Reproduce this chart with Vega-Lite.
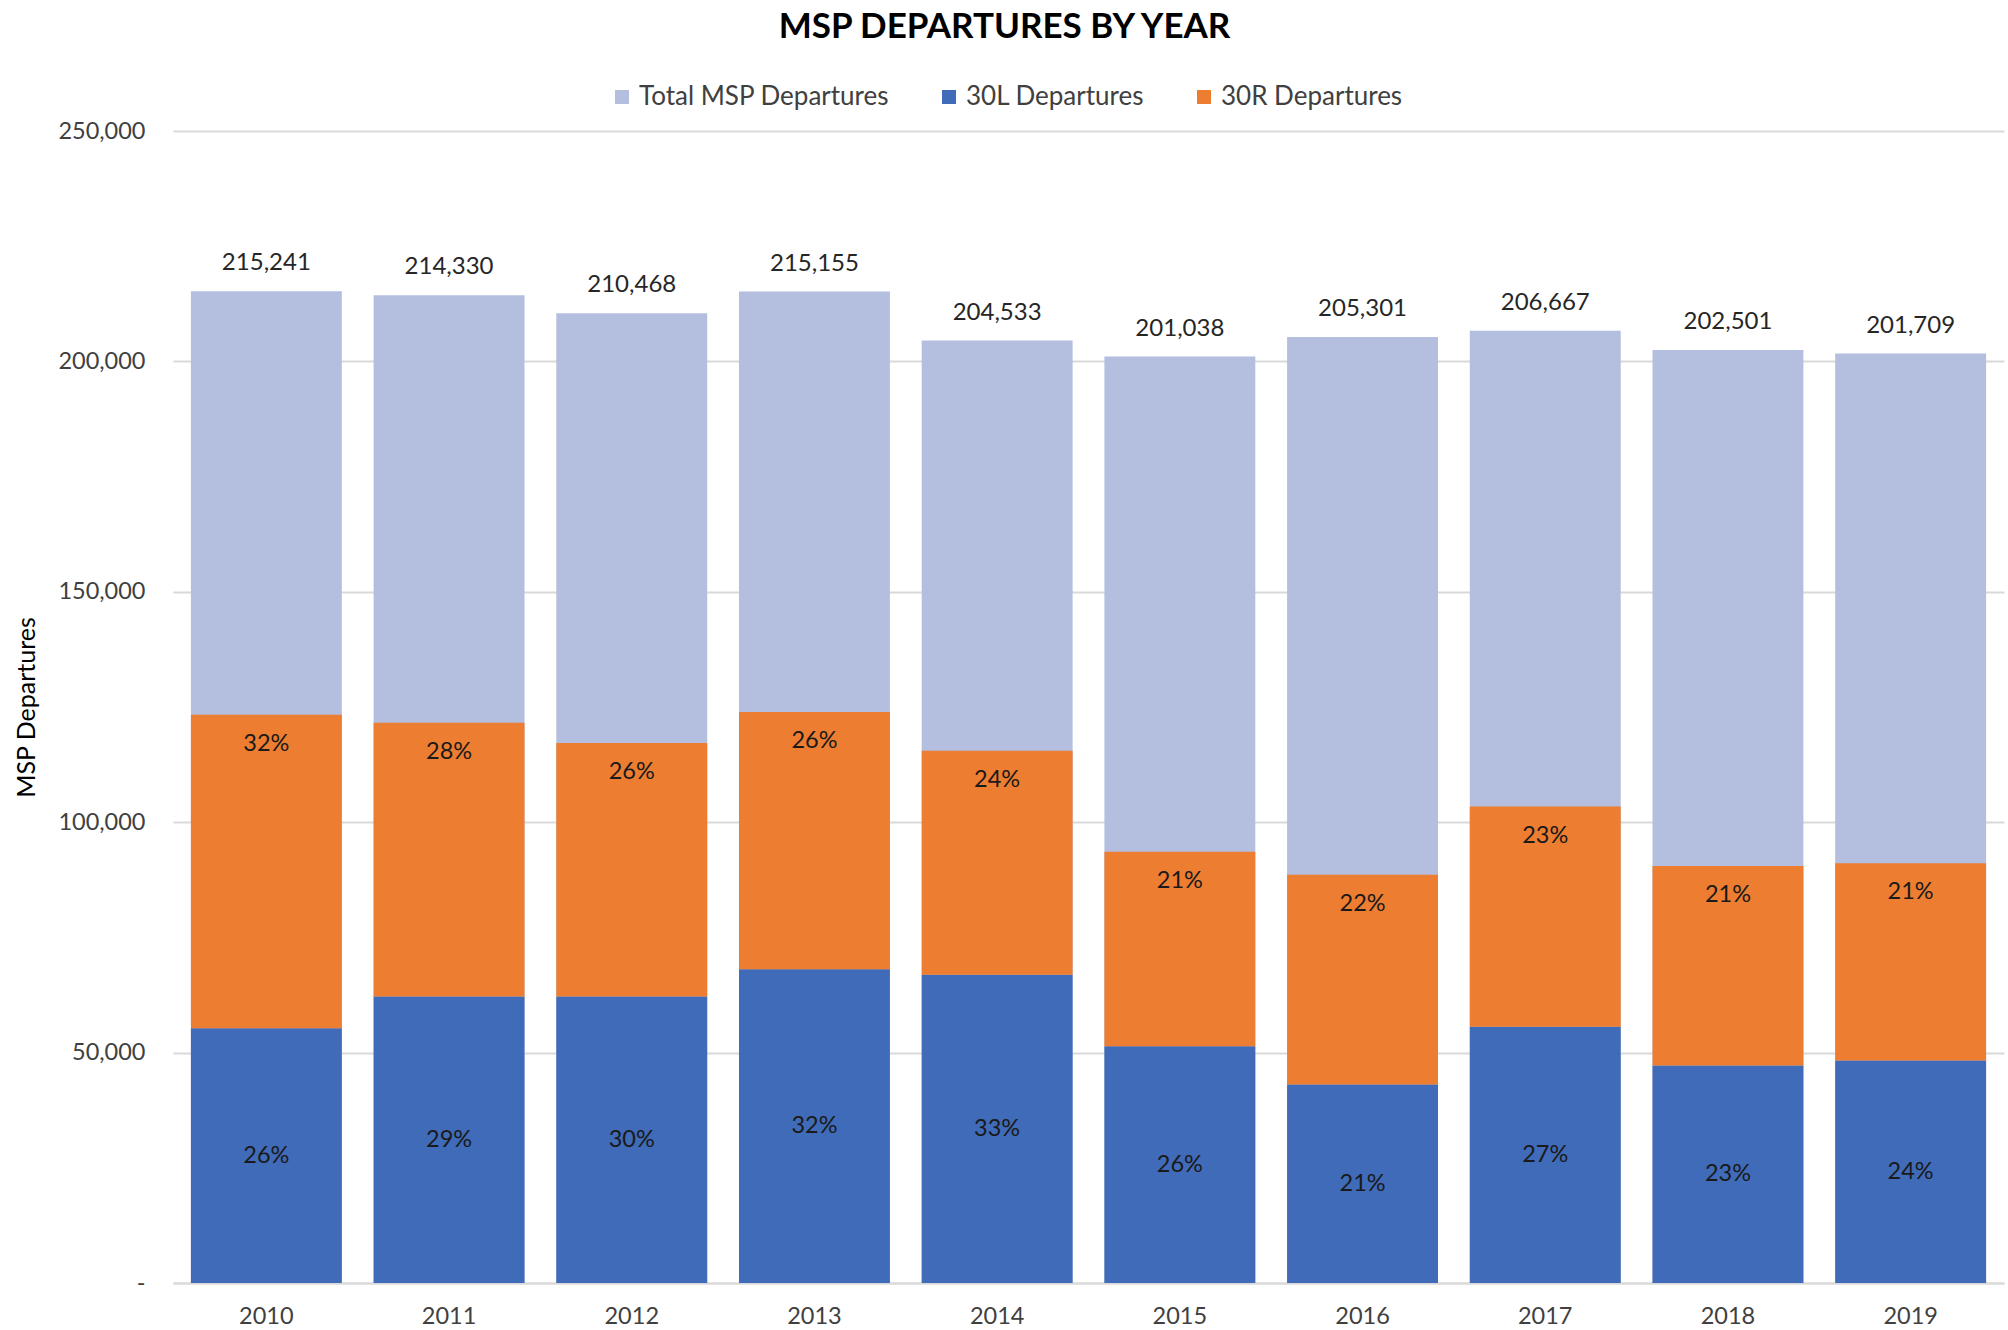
{
  "$schema": "https://vega.github.io/schema/vega-lite/v6.json",
  "autosize": {"type": "none"},
  "width": 1831,
  "height": 1152,
  "padding": {"left": 173, "top": 131, "right": 4, "bottom": 47},
  "background": "white",
  "config": {"font": "Lato", "view": {"stroke": null}},
  "title": {"text": "MSP DEPARTURES BY YEAR", "fontSize": 35, "fontWeight": "bold", "color": "#000000", "anchor": "middle", "frame": "group", "dx": -84, "offset": 39},
  "data": {"values": [
    {"year": "2010", "series": "Total MSP Departures", "value": 215241},
    {"year": "2010", "series": "30L Departures", "value": 55300, "pct": "26%"},
    {"year": "2010", "series": "30R Departures", "value": 68000, "pct": "32%"},
    {"year": "2011", "series": "Total MSP Departures", "value": 214330},
    {"year": "2011", "series": "30L Departures", "value": 62200, "pct": "29%"},
    {"year": "2011", "series": "30R Departures", "value": 59400, "pct": "28%"},
    {"year": "2012", "series": "Total MSP Departures", "value": 210468},
    {"year": "2012", "series": "30L Departures", "value": 62200, "pct": "30%"},
    {"year": "2012", "series": "30R Departures", "value": 55000, "pct": "26%"},
    {"year": "2013", "series": "Total MSP Departures", "value": 215155},
    {"year": "2013", "series": "30L Departures", "value": 68100, "pct": "32%"},
    {"year": "2013", "series": "30R Departures", "value": 55800, "pct": "26%"},
    {"year": "2014", "series": "Total MSP Departures", "value": 204533},
    {"year": "2014", "series": "30L Departures", "value": 66900, "pct": "33%"},
    {"year": "2014", "series": "30R Departures", "value": 48600, "pct": "24%"},
    {"year": "2015", "series": "Total MSP Departures", "value": 201038},
    {"year": "2015", "series": "30L Departures", "value": 51400, "pct": "26%"},
    {"year": "2015", "series": "30R Departures", "value": 42200, "pct": "21%"},
    {"year": "2016", "series": "Total MSP Departures", "value": 205301},
    {"year": "2016", "series": "30L Departures", "value": 43100, "pct": "21%"},
    {"year": "2016", "series": "30R Departures", "value": 45500, "pct": "22%"},
    {"year": "2017", "series": "Total MSP Departures", "value": 206667},
    {"year": "2017", "series": "30L Departures", "value": 55600, "pct": "27%"},
    {"year": "2017", "series": "30R Departures", "value": 47800, "pct": "23%"},
    {"year": "2018", "series": "Total MSP Departures", "value": 202501},
    {"year": "2018", "series": "30L Departures", "value": 47200, "pct": "23%"},
    {"year": "2018", "series": "30R Departures", "value": 43300, "pct": "21%"},
    {"year": "2019", "series": "Total MSP Departures", "value": 201709},
    {"year": "2019", "series": "30L Departures", "value": 48300, "pct": "24%"},
    {"year": "2019", "series": "30R Departures", "value": 42800, "pct": "21%"}
  ]},
  "layer": [
    {
      "layer": [
        {
          "transform": [{"filter": "datum.series === 'Total MSP Departures'"}],
          "mark": {"type": "bar"},
          "encoding": {
            "x": {"field": "year", "type": "nominal", "scale": {"paddingInner": 0.174, "paddingOuter": 0.098},
                  "axis": {"title": null, "labelAngle": 0, "ticks": false, "domainColor": "#D9D9D9", "domainWidth": 2, "labelFontSize": 23.5, "labelColor": "#404040", "labelPadding": 21}},
            "y": {"field": "value", "type": "quantitative", "stack": null, "scale": {"domain": [0, 250000]},
                  "axis": {"values": [0, 50000, 100000, 150000, 200000, 250000], "labelExpr": "datum.value == 0 ? '-' : format(datum.value, ',')", "grid": true, "gridColor": "#D9D9D9", "gridWidth": 2, "domain": false, "ticks": false, "labelPadding": 28, "labelFontSize": 23.5, "labelColor": "#404040", "title": "MSP Departures", "titleFontSize": 25, "titleFontWeight": "normal", "titleColor": "#000000", "titleX": -134, "titleY": 576}},
            "color": {"field": "series", "type": "nominal",
                      "scale": {"domain": ["Total MSP Departures", "30L Departures", "30R Departures"], "range": ["#B4BEDF", "#3F6BB8", "#ED7D31"]},
                      "legend": {"title": null, "orient": "none", "legendX": 436, "legendY": -47, "direction": "horizontal", "symbolType": "square", "symbolSize": 196, "symbolStrokeWidth": 0, "labelFontSize": 26, "labelLimit": 0, "labelColor": "#404040", "columnPadding": 46, "labelOffset": 4}}
          }
        },
        {
          "transform": [{"filter": "datum.series !== 'Total MSP Departures'"}],
          "mark": {"type": "bar"},
          "encoding": {
            "x": {"field": "year", "type": "nominal"},
            "y": {"field": "value", "type": "quantitative", "stack": "zero", "scale": {"domain": [0, 250000]}},
            "color": {"field": "series", "type": "nominal"},
            "order": {"field": "series", "sort": "ascending"}
          }
        },
        {
          "transform": [{"filter": "datum.series === 'Total MSP Departures'"}],
          "mark": {"type": "text", "dy": -28, "baseline": "middle", "fontSize": 24, "color": "#262626"},
          "encoding": {
            "x": {"field": "year", "type": "nominal"},
            "y": {"field": "value", "type": "quantitative", "stack": null, "scale": {"domain": [0, 250000]}},
            "text": {"field": "value", "type": "quantitative", "format": ","}
          }
        },
        {
          "transform": [
            {"filter": "datum.series !== 'Total MSP Departures'"},
            {"stack": "value", "groupby": ["year"], "sort": [{"field": "series", "order": "ascending"}], "as": ["v0", "v1"]},
            {"filter": "datum.series === '30R Departures'"}
          ],
          "mark": {"type": "text", "dy": 29, "baseline": "middle", "fontSize": 23.5, "color": "#1a1a1a"},
          "encoding": {
            "x": {"field": "year", "type": "nominal"},
            "y": {"field": "v1", "type": "quantitative", "stack": null, "scale": {"domain": [0, 250000]}},
            "text": {"field": "pct", "type": "nominal"}
          }
        }
      ]
    },
    {
      "transform": [{"filter": "datum.series === '30L Departures'"}],
      "mark": {"type": "text", "baseline": "middle", "fontSize": 23.5, "color": "#1a1a1a"},
      "encoding": {
        "x": {"field": "year", "type": "nominal"},
        "y": {"field": "value", "type": "quantitative", "stack": null, "scale": {"domain": [0, 500000]}, "axis": null},
        "text": {"field": "pct", "type": "nominal"}
      }
    }
  ],
  "resolve": {"scale": {"y": "independent"}}
}
